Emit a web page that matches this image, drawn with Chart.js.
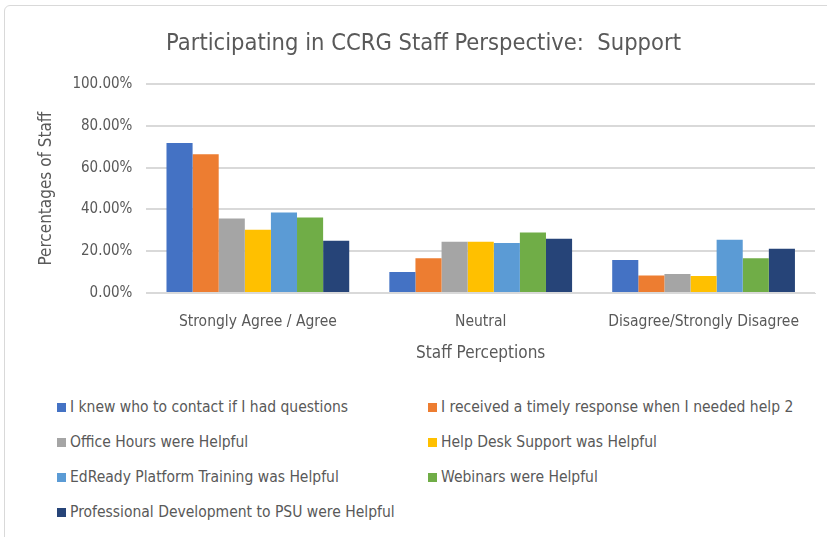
<!DOCTYPE html>
<html>
<head>
<meta charset="utf-8">
<script src="https://cdn.jsdelivr.net/npm/chart.js@4/dist/chart.umd.min.js"></script>
<style>
  body { margin: 0; background: #fff; font-family: "DejaVu Sans Condensed", "Liberation Sans Narrow", "Noto Sans", sans-serif; }
  #frame { position: absolute; left: 4px; top: 5px; width: 840px; height: 540px; border: 1px solid #d9d9d9; border-radius: 6px; }
  #wrap { position: absolute; left: 0; top: 0; width: 827px; height: 368px; }
  #legend { position: absolute; left: 57px; top: 396px; display: grid; grid-template-columns: 371px 371px; row-gap: 13px; }
  .item { display: flex; align-items: center; font-size: 15.5px; color: #595959; height: 22px; white-space: nowrap; }
  .sw { width: 9px; height: 9px; margin-right: 4px; }
</style>
</head>
<body>
<div id="frame"></div>
<div id="wrap"><canvas id="chart1"></canvas></div>
<div id="legend"></div>
<script>
// categories and series (fraction of staff)
var categories = ["Strongly Agree / Agree", "Neutral", "Disagree/Strongly Disagree"];
var seriesNames = [
  "I knew who to contact if I had questions",
  "I received a timely response when I needed help 2",
  "Office Hours were Helpful",
  "Help Desk Support was Helpful",
  "EdReady Platform Training was Helpful",
  "Webinars were Helpful",
  "Professional Development to PSU were Helpful"
];
var knewContact = [0.718, 0.100, 0.158];
var timelyResponse = [0.664, 0.167, 0.084];
var officeHours = [0.357, 0.245, 0.091];
var helpDesk = [0.303, 0.245, 0.081];
var edReady = [0.385, 0.240, 0.255];
var webinars = [0.361, 0.290, 0.167];
var profDev = [0.250, 0.260, 0.212];
var yTicks = [0, 0.2, 0.4, 0.6, 0.8, 1.0];

var colors = ["#4472C4", "#ED7D31", "#A5A5A5", "#FFC000", "#5B9BD5", "#70AD47", "#264478"];
var allValues = [knewContact, timelyResponse, officeHours, helpDesk, edReady, webinars, profDev];

var datasets = seriesNames.map(function (name, i) {
  return {
    label: name,
    data: allValues[i],
    backgroundColor: colors[i],
    barPercentage: 1.0,
    categoryPercentage: 0.82
  };
});

var fontFam = '"DejaVu Sans Condensed", "Liberation Sans Narrow", "Noto Sans", sans-serif';

var chart = new Chart(document.getElementById("chart1"), {
  type: 'bar',
  data: { labels: categories, datasets: datasets },
  options: {
    responsive: true,
    maintainAspectRatio: false,
    animation: false,
    layout: { padding: { left: 32, right: 12, top: 30, bottom: 0 } },
    plugins: {
      legend: { display: false },
      tooltip: { enabled: false },
      title: {
        display: true,
        text: "Participating in CCRG Staff Perspective:  Support",
        color: '#595959',
        font: { family: fontFam, size: 23.5, weight: 'normal' },
        padding: { top: 0, bottom: 26 }
      }
    },
    scales: {
      x: {
        grid: { display: false },
        border: { color: '#d9d9d9' },
        ticks: { color: '#595959', font: { family: fontFam, size: 15.5 }, padding: 12 },
        title: { display: true, text: 'Staff Perceptions', color: '#595959', font: { family: fontFam, size: 17 }, padding: { top: 0 } }
      },
      y: {
        min: 0, max: 1,
        afterBuildTicks: function (axis) { axis.ticks = yTicks.map(function (v) { return { value: v }; }); },
        grid: { color: '#d9d9d9', lineWidth: 2, drawTicks: false },
        border: { display: false },
        ticks: {
          color: '#595959', font: { family: fontFam, size: 15 }, padding: 14,
          callback: function (v) { return (v * 100).toFixed(2) + '%'; }
        },
        title: { display: true, text: 'Percentages of Staff', color: '#595959', font: { family: fontFam, size: 17 }, padding: { bottom: 2 } }
      }
    }
  }
});

// two-column legend like the original
var legendEl = document.getElementById("legend");
chart.data.datasets.forEach(function (ds) {
  var it = document.createElement("div");
  it.className = "item";
  var sw = document.createElement("span");
  sw.className = "sw";
  sw.style.background = ds.backgroundColor;
  it.appendChild(sw);
  it.appendChild(document.createTextNode(ds.label));
  legendEl.appendChild(it);
});
</script>
</body>
</html>
